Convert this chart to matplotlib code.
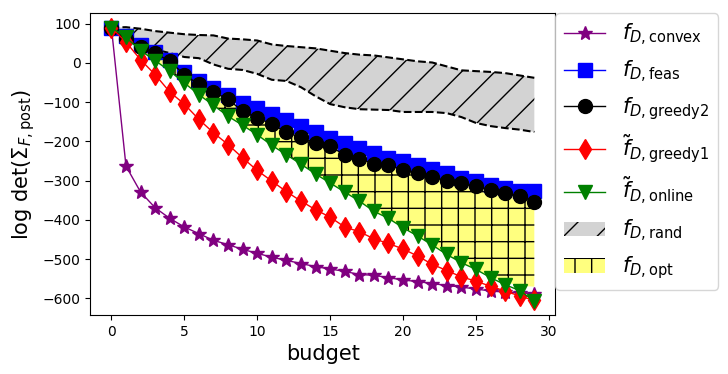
import matplotlib
matplotlib.use('Agg')
import matplotlib.pyplot as plt
import numpy as np

budget = np.arange(30)

convex = [90, -263, -329, -369, -396, -418, -435, -452, -463, -475, -485, -495, -503, -511, -519,
          -525, -531, -539, -541, -547, -553, -557, -562, -567, -571, -576, -581, -584, -586, -588]
feas = [90, 68, 45, 28, 8, -22, -45, -65, -82, -103, -116, -131, -146, -161, -177,
        -191, -204, -217, -229, -241, -250, -259, -270, -281, -292, -301, -310, -318, -327, -326]
greedy2 = [90, 62, 40, 25, 4, -30, -55, -74, -93, -123, -140, -156, -177, -190, -204,
           -212, -235, -244, -257, -261, -272, -280, -291, -300, -307, -314, -323, -331, -339, -354]
greedy1 = [90, 53, 8, -30, -74, -105, -144, -178, -208, -242, -274, -301, -328, -352, -374,
           -393, -418, -430, -448, -460, -474, -492, -513, -529, -545, -556, -569, -581, -594, -605]
online = [90, 65, 31, 6, -21, -51, -81, -108, -136, -159, -183, -210, -234, -258, -283,
          -306, -329, -352, -378, -396, -420, -441, -464, -488, -509, -526, -547, -565, -580, -607]

rand_up = [90, 91, 87, 81, 77, 73, 71, 70, 62, 60, 57, 47, 43, 40, 37,
           31, 25, 21, 19, 14, 9, 4, 1, -9, -19, -21, -23, -26, -32, -38]
rand_low = [90, 62, 46, 34, 25, 15, 12, -4, -15, -18, -28, -43, -46, -62, -85,
            -105, -113, -118, -119, -120, -125, -125, -125, -128, -138, -153, -161, -166, -170, -176]

opt_up = [90, 62, 40, 25, 4, -30, -55, -76, -95, -125, -142, -158, -179, -192, -206,
          -214, -237, -246, -259, -263, -274, -282, -293, -302, -309, -316, -325, -333, -341, -354]
opt_low = [90, 65, 31, 6, -21, -51, -81, -108, -136, -159, -183, -210, -234, -258, -283,
           -306, -329, -352, -378, -396, -420, -441, -464, -488, -509, -526, -545, -558, -568, -570]

plt.figure(figsize=(7.28, 3.74), dpi=100)
ax = plt.axes([0.124, 0.158, 0.639, 0.806])

# random designs band
h_rand = plt.fill_between(budget, rand_low, rand_up, facecolor='lightgray', edgecolor='k',
                          linewidth=0, hatch='/')
plt.plot(budget, rand_up, 'k--')
plt.plot(budget, rand_low, 'k--')

# optimal designs band
h_opt = plt.fill_between(budget, opt_low, opt_up, facecolor=(1, 1, 0, 0.5), edgecolor='k',
                         linewidth=0, hatch='+')

h1, = plt.plot(budget, convex, color='purple', marker='*', markersize=10, linewidth=1)
h2, = plt.plot(budget, feas, color='blue', marker='s', markersize=10, linewidth=1)
h3, = plt.plot(budget, greedy2, color='black', marker='o', markersize=10, linewidth=1)
h4, = plt.plot(budget, greedy1, color='red', marker='d', markersize=10, linewidth=1)
h5, = plt.plot(budget, online, color='green', marker='v', markersize=10, linewidth=1)

plt.xlabel('budget', fontsize=15)
plt.ylabel(r'log det($\Sigma_{F,\mathrm{post}}$)', fontsize=15)

plt.legend([h1, h2, h3, h4, h5, h_rand, h_opt],
           [r'$f_{D,\mathrm{convex}}$', r'$f_{D,\mathrm{feas}}$', r'$f_{D,\mathrm{greedy2}}$',
            r'$\tilde{f}_{D,\mathrm{greedy1}}$', r'$\tilde{f}_{D,\mathrm{online}}$',
            r'$f_{D,\mathrm{rand}}$', r'$f_{D,\mathrm{opt}}$'],
           loc='upper left', bbox_to_anchor=(1, 1), borderaxespad=0, fontsize=15)

plt.savefig('out.png', dpi=100)
